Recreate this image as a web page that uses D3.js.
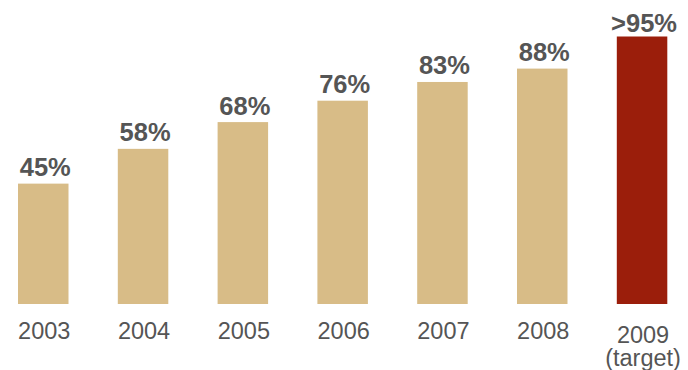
<!DOCTYPE html>
<html><head><meta charset="utf-8">
<script src="https://cdn.jsdelivr.net/npm/d3@7/dist/d3.min.js"></script>
<style>html,body{margin:0;padding:0;background:#fff;}svg{display:block;}</style>
</head><body>
<svg id="chart" width="688" height="370"></svg>
<script>
const years = ["2003","2004","2005","2006","2007","2008","2009"];
const subLabels = ["","","","","","","(target)"];
const values = [45, 58, 68, 76, 83, 88, 100];
const valueLabels = ["45%","58%","68%","76%","83%","88%",">95%"];
const barColors = ["#D8BC87","#D8BC87","#D8BC87","#D8BC87","#D8BC87","#D8BC87","#9B1E0B"];

const svg = d3.select("#chart");
const x = d3.scaleBand().domain(years).range([18, 667.3]).paddingInner(0.494).paddingOuter(0);
const y = d3.scaleLinear().domain([0, 100]).range([304, 36.5]);
const font = "'Liberation Sans', Arial, sans-serif";

svg.selectAll("rect.bar").data(years).enter().append("rect")
  .attr("class","bar")
  .attr("x", d => x(d))
  .attr("width", x.bandwidth())
  .attr("y", (d,i) => y(values[i]))
  .attr("height", (d,i) => y(0) - y(values[i]))
  .attr("fill", (d,i) => barColors[i]);

svg.selectAll("text.val").data(years).enter().append("text")
  .attr("class","val")
  .attr("x", d => x(d) + x.bandwidth()/2 + 2)
  .attr("y", (d,i) => y(values[i]) - (i === 6 ? 5 : 7.5))
  .attr("text-anchor","middle")
  .attr("font-family", font)
  .attr("font-weight","bold")
  .attr("font-size", 25.5)
  .attr("fill","#555555")
  .text((d,i) => valueLabels[i]);

svg.selectAll("text.year").data(years).enter().append("text")
  .attr("class","year")
  .attr("x", d => x(d) + x.bandwidth()/2 + 1)
  .attr("y", (d,i) => subLabels[i] ? 342.5 : 339)
  .attr("text-anchor","middle")
  .attr("font-family", font)
  .attr("font-size", 23.5)
  .attr("fill","#555555")
  .text(d => d);

svg.selectAll("text.sub").data(years.filter((d,i)=>subLabels[i])).enter().append("text")
  .attr("class","sub")
  .attr("x", d => x(d) + x.bandwidth()/2 + 1)
  .attr("y", 366)
  .attr("text-anchor","middle")
  .attr("font-family", font)
  .attr("font-size", 23.5)
  .attr("fill","#555555")
  .text(d => subLabels[years.indexOf(d)]);
</script>
</body></html>
